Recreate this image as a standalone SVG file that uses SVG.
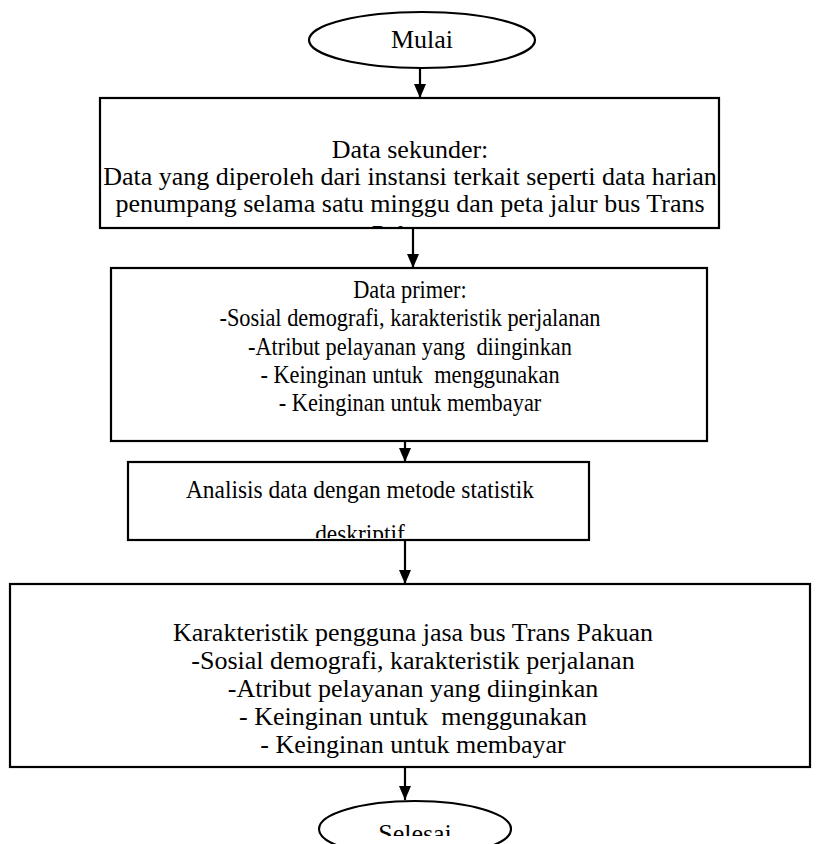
<svg xmlns="http://www.w3.org/2000/svg" width="819" height="844" viewBox="0 0 819 844">
<style>
  .shape { fill: #fff; stroke: #000; stroke-width: 2.2; }
  .t { font-family: "Liberation Serif", "Times New Roman", serif; font-size: 26px; fill: #000; text-anchor: middle; white-space: pre; }
  .conn { stroke: #000; stroke-width: 2.2; fill: none; }
</style>
<defs>
  <marker id="arrow" viewBox="0 0 14 12" refX="14" refY="6" markerWidth="14" markerHeight="12" markerUnits="userSpaceOnUse" orient="auto">
    <path d="M0,0 L14,6 L0,12 Z" fill="#000"/>
  </marker>
  <clipPath id="clip1"><rect x="101" y="99" width="617" height="128"/></clipPath>
  <clipPath id="clip3"><rect x="129" y="463" width="459" height="75"/></clipPath>
  <clipPath id="clip6"><rect x="300" y="800" width="240" height="36"/></clipPath>
</defs>

<g id="connectors">
  <line class="conn" x1="420" y1="68" x2="420" y2="98" marker-end="url(#arrow)"/>
  <line class="conn" x1="413" y1="228" x2="413" y2="268" marker-end="url(#arrow)"/>
  <line class="conn" x1="405" y1="441" x2="405" y2="462" marker-end="url(#arrow)"/>
  <line class="conn" x1="405" y1="540" x2="405" y2="584" marker-end="url(#arrow)"/>
  <line class="conn" x1="405" y1="767" x2="405" y2="800" marker-end="url(#arrow)"/>
</g>

<g id="mulai">
  <ellipse class="shape" cx="422" cy="40" rx="113" ry="28"/>
  <text class="t" x="422" y="48">Mulai</text>
</g>

<g id="data-sekunder">
  <rect class="shape" x="100" y="98" width="619" height="130"/>
  <g clip-path="url(#clip1)">
    <text class="t" x="410" y="158">Data sekunder:</text>
    <text class="t" x="410" y="185" font-size="25.6">Data yang diperoleh dari instansi terkait seperti data harian</text>
    <text class="t" x="410" y="212">penumpang selama satu minggu dan peta jalur bus Trans</text>
    <text class="t" x="410" y="243">Pakuan</text>
  </g>
</g>

<g id="data-primer">
  <rect class="shape" x="111" y="268" width="596" height="173"/>
  <g transform="translate(410,0) scale(0.86,1) translate(-410,0)">
    <text class="t" x="410" y="298">Data primer:</text>
    <text class="t" x="410" y="326">-Sosial demografi, karakteristik perjalanan</text>
    <text class="t" x="410" y="355">-Atribut pelayanan yang  diinginkan</text>
    <text class="t" x="410" y="383">- Keinginan untuk  menggunakan</text>
    <text class="t" x="410" y="411">- Keinginan untuk membayar</text>
  </g>
</g>

<g id="analisis">
  <rect class="shape" x="128" y="462" width="461" height="78"/>
  <g clip-path="url(#clip3)">
    <g transform="translate(360,0) scale(0.9,1) translate(-360,0)">
      <text class="t" x="360" y="498">Analisis data dengan metode statistik</text>
      <text class="t" x="360" y="542">deskriptif</text>
    </g>
  </g>
</g>

<g id="karakteristik">
  <rect class="shape" x="10" y="584" width="800" height="183"/>
  <text class="t" x="413" y="641">Karakteristik pengguna jasa bus Trans Pakuan</text>
  <text class="t" x="413" y="669">-Sosial demografi, karakteristik perjalanan</text>
  <text class="t" x="413" y="697">-Atribut pelayanan yang diinginkan</text>
  <text class="t" x="413" y="725">- Keinginan untuk  menggunakan</text>
  <text class="t" x="413" y="753">- Keinginan untuk membayar</text>
</g>

<g id="selesai">
  <ellipse class="shape" cx="415" cy="829" rx="96" ry="28"/>
  <g clip-path="url(#clip6)">
    <text class="t" x="415" y="842">Selesai</text>
  </g>
</g>
</svg>
